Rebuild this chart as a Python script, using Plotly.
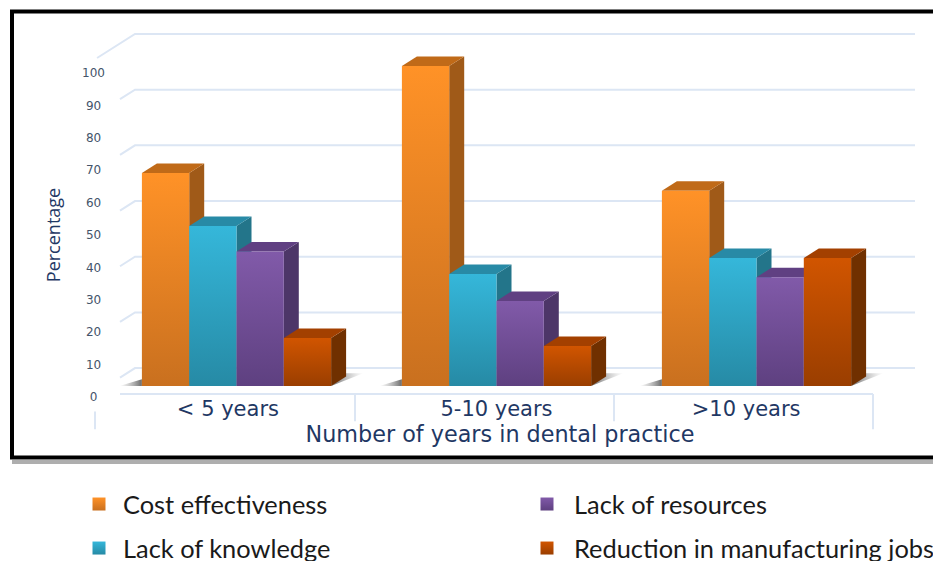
import plotly.graph_objects as go

# Survey results by length of dental practice
categories = ["< 5 years", "5-10 years", ">10 years"]
category_label_positions = [-0.033, 1, 1.96]
cost_effectiveness = [66.6, 100, 61]
lack_of_knowledge = [50, 35, 40]
lack_of_resources = [42, 26.6, 34]
reduction_in_jobs = [15, 12.5, 40]

series_names = ["Cost effectiveness", "Lack of knowledge", "Lack of resources",
                "Reduction in manufacturing jobs"]
series_values = [cost_effectiveness, lack_of_knowledge, lack_of_resources, reduction_in_jobs]

tick_values = [0, 10, 20, 30, 40, 50, 60, 70, 80, 90, 100]
wall_levels = [5.6, 23, 40.4, 57.8, 75.2, 92.6, 110]

# (bottom of front, top of front, side, lid)
palette = [
    ("#C9701F", "#FF9227", "#A05A18", "#C06A18"),
    ("#268AA5", "#35B7DA", "#23758A", "#288AA6"),
    ("#5E4080", "#815AA9", "#4D3668", "#604082"),
    ("#9A3E00", "#D15500", "#703000", "#A34000"),
]

WIDTH, HEIGHT = 933, 561
PX_PER_GROUP, PX_PER_UNIT = 260, 3.2
BAR = 47.3 / PX_PER_GROUP          # bar width in group units
DX = 15 / PX_PER_GROUP             # oblique depth, horizontal
DY = 9.5 / PX_PER_UNIT             # oblique depth, vertical
ZERO_X, ZERO_Y = 236.5, 386        # where group 0 and value 0 land on the canvas
PLOT_LEFT, PLOT_BOTTOM = 67, 470   # plot area edges in canvas pixels

NAVY = "#1F3864"
SLATE = "#44546A"
WALL = "#DCE6F4"

fig = go.Figure()


def poly(xs, ys, **kw):
    fig.add_trace(go.Scatter(x=xs + xs[:1], y=ys + ys[:1], mode="lines", line=dict(width=0),
                             fill="toself", showlegend=False, hoverinfo="skip", **kw))


def polyline(xs, ys, width=2, color=WALL):
    fig.add_trace(go.Scatter(x=xs, y=ys, mode="lines", line=dict(color=color, width=width),
                             showlegend=False, hoverinfo="skip"))


# back wall rules with their short return towards the viewer
wall_left, wall_right = -101.5 / PX_PER_GROUP, 678.5 / PX_PER_GROUP
for i, level in enumerate(wall_levels):
    reach = 2.53 if i == len(wall_levels) - 1 else 1
    polyline([wall_left - DX * reach, wall_left, wall_right],
             [level - DY * reach, level, level])

# floor shadows
for g in range(len(categories)):
    left, right = g - 2 * BAR, g + 2 * BAR
    grey = dict(type="horizontal", colorscale=[[0, "rgba(150,150,150,0.0)"], [1, "rgba(80,80,80,0.85)"]])
    poly([left - 1.5 * DX, left, left], [0, 0, DY * 0.7], fillgradient=grey)
    grey_r = dict(type="horizontal", colorscale=[[0, "rgba(80,80,80,0.85)"], [1, "rgba(150,150,150,0.0)"]])
    poly([right, right + 2.15 * DX, right + DX], [0, DY * 1.35, DY * 1.35], fillgradient=grey_r)

# oblique bars: side, lid and graded front for each value
for g in range(len(categories)):
    for s, values in enumerate(series_values):
        v = values[g]
        bottom, top, side, lid = palette[s]
        x0 = g + (s - 2) * BAR
        x1 = x0 + BAR
        poly([x1, x1 + DX, x1 + DX, x1], [0, DY, v + DY, v], fillcolor=side)
        poly([x0, x1, x1 + DX, x0 + DX], [v, v, v + DY, v + DY], fillcolor=lid)
        poly([x0, x1, x1, x0], [0, 0, v, v],
             fillgradient=dict(type="vertical", start=0, stop=v,
                               colorscale=[[0, bottom], [1, top]]))

# category band under the floor
AXIS_Y = -2.5
polyline([-116.5 / PX_PER_GROUP, 636.5 / PX_PER_GROUP], [AXIS_Y, AXIS_Y])
for bx in [118.5 / PX_PER_GROUP, 377.5 / PX_PER_GROUP]:
    polyline([bx, bx], [AXIS_Y, -11])
polyline([636.5 / PX_PER_GROUP] * 2, [AXIS_Y, -13.5])
polyline([-141.5 / PX_PER_GROUP] * 2, [-8, -13.5])

# legend keys, one column per legend
for s, name in enumerate(series_names):
    bottom, top, _, _ = palette[s]
    fig.add_trace(go.Scatter(
        x=[None], y=[None], mode="markers", name=name,
        legend="legend" if s < 2 else "legend2", legendgroup=name,
        marker=dict(symbol="square", size=13, color=top,
                    gradient=dict(type="vertical", color=bottom))))

# a second value axis carries the printed percentage scale
fig.add_trace(go.Scatter(x=[None], y=[None], yaxis="y2", showlegend=False, hoverinfo="skip"))

nbsp = "\u00a0"
tick_text = [str(v) + nbsp * (3 - len(str(v))) for v in tick_values]

legend_common = dict(
    bgcolor="rgba(0,0,0,0)", yanchor="top", xanchor="left", tracegroupgap=8,
    itemclick=False, itemdoubleclick=False,
    font=dict(family="Lato", size=25.4, color="#1A1A1A"),
)

fig.update_layout(
    width=WIDTH, height=HEIGHT,
    margin=dict(l=0, r=0, t=0, b=0, autoexpand=False),
    paper_bgcolor="white", plot_bgcolor="rgba(0,0,0,0)",
    xaxis=dict(
        domain=[PLOT_LEFT / WIDTH, 1],
        range=[(PLOT_LEFT - ZERO_X) / PX_PER_GROUP, (WIDTH - ZERO_X) / PX_PER_GROUP],
        anchor="free", position=(HEIGHT - 394) / HEIGHT,
        tickmode="array", tickvals=category_label_positions, ticktext=categories,
        ticks="", showgrid=False, zeroline=False, showline=False,
        tickfont=dict(family="DejaVu Sans", size=21, color=NAVY),
        title=dict(text="Number of years in dental practice", standoff=4,
                   font=dict(family="DejaVu Sans", size=22.3, color=NAVY)),
    ),
    yaxis=dict(
        domain=[(HEIGHT - PLOT_BOTTOM) / HEIGHT, 1],
        range=[(ZERO_Y - PLOT_BOTTOM) / PX_PER_UNIT, ZERO_Y / PX_PER_UNIT],
        visible=False,
    ),
    yaxis2=dict(
        overlaying="y", anchor="free", position=105 / WIDTH, side="left",
        range=[(397 - PLOT_BOTTOM) / 3.24, 397 / 3.24],
        tickmode="array", tickvals=tick_values, ticktext=tick_text,
        showgrid=False, zeroline=False, showline=False, ticks="",
        tickfont=dict(family="DejaVu Sans", size=12, color=SLATE),
        title=dict(text="Percentage", standoff=15,
                   font=dict(family="Open Sans", size=18, color=NAVY)),
    ),
    legend=dict(x=75 / WIDTH, y=(HEIGHT - 481) / HEIGHT, itemwidth=38, **legend_common),
    legend2=dict(x=520 / WIDTH, y=(HEIGHT - 481) / HEIGHT, itemwidth=44,
                 entrywidth=360, entrywidthmode="pixels", **legend_common),
    shapes=[
        # drop shadow and heavy black frame round the plot
        dict(type="line", xref="paper", yref="paper", x0=12 / WIDTH, x1=1.01,
             y0=(HEIGHT - 462) / HEIGHT, y1=(HEIGHT - 462) / HEIGHT,
             line=dict(color="rgba(120,120,120,0.6)", width=4)),
        dict(type="rect", xref="paper", yref="paper", x0=12 / WIDTH, x1=1.01,
             y0=(HEIGHT - 457.5) / HEIGHT, y1=(HEIGHT - 11.5) / HEIGHT,
             line=dict(color="black", width=4), layer="above"),
    ],
)

fig.write_html("out.html")
